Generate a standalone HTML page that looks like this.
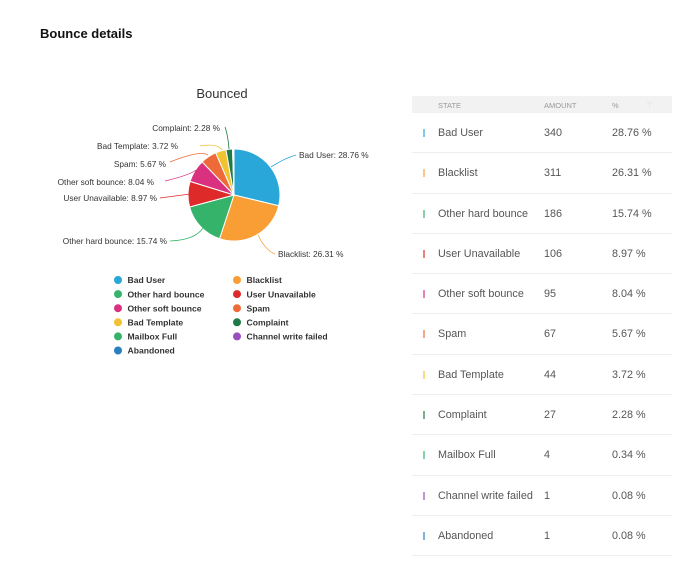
<!DOCTYPE html>
<html><head><meta charset="utf-8"><style>
body{margin:0;width:700px;height:574px;background:#fff;font-family:"Liberation Sans","DejaVu Sans",sans-serif;position:relative;overflow:hidden}
h1{position:absolute;left:40px;top:26px;margin:0;font-size:13px;font-weight:bold;color:#111}
.tbl{position:absolute;left:412px;top:96px;width:260px}
.hd{height:17px;background:#f2f2f2;font-size:7.5px;color:#999;position:relative}
.hd span{position:absolute;top:5px}
.row{height:39.3px;border-bottom:1px solid #eee;position:relative;font-size:10.8px;color:#555}
.row span{position:absolute;top:14px}
.bar{position:absolute;left:11px;top:16px;width:1.5px;height:8px}
</style></head><body>
<h1>Bounce details</h1>
<svg width="410" height="380" style="position:absolute;left:0;top:0" id="s" font-family="Liberation Sans, DejaVu Sans, sans-serif">
<text x="222" y="98" font-size="13" fill="#333" text-anchor="middle">Bounced</text>
</svg>
<div class="tbl">
<div class="hd"><span style="left:26px">STATE</span><span style="left:132px">AMOUNT</span><span style="left:200px">%</span><span style="left:234px;color:#ddd">⊤</span></div>
<div id="rows"></div>
</div>
<script>
var d=[["Bad User",340,"28.76","#29a7d8"],["Blacklist",311,"26.31","#f99e35"],["Other hard bounce",186,"15.74","#36b36a"],["User Unavailable",106,"8.97","#df2a2a"],["Other soft bounce",95,"8.04","#d9307f"],["Spam",67,"5.67","#ee6a38"],["Bad Template",44,"3.72","#f1c232"],["Complaint",27,"2.28","#1f7a45"],["Mailbox Full",4,"0.34","#36b36a"],["Channel write failed",1,"0.08","#9a4fc0"],["Abandoned",1,"0.08","#2a7fbf"]];
var s=document.getElementById('s'),h='',cx=234,cy=195,r=46,a=0,tot=1182;
function pt(t,R){return [cx+R*Math.sin(t),cy-R*Math.cos(t)]}
d.forEach(function(e){var b=a+e[1]/tot*2*Math.PI,p=pt(a,r),q=pt(b,r);h+='<path d="M'+cx+','+cy+'L'+p[0]+','+p[1]+'A'+r+','+r+' 0 '+((b-a)>Math.PI?1:0)+' 1 '+q[0]+','+q[1]+'Z" fill="'+e[3]+'" stroke="#fff" stroke-width="1"/>';a=b;});
var L=[["Bad User: 28.76 %",299,158,"start","#29a7d8","M271,167 Q285,158 296,155"],["Blacklist: 26.31 %",278,257,"start","#f99e35","M258,235 Q265,250 275,254"],["Other hard bounce: 15.74 %",167,244,"end","#36b36a","M203,228 Q195,240 170,241"],["User Unavailable: 8.97 %",157,201,"end","#df2a2a","M190,194 L160,198"],["Other soft bounce: 8.04 %",154,185,"end","#d9307f","M196,170 Q190,175 165,181"],["Spam: 5.67 %",166,167,"end","#ee6a38","M208,155 Q200,150 170,162"],["Bad Template: 3.72 %",178,149,"end","#f1c232","M222,150 Q218,143 200,146"],["Complaint: 2.28 %",220,131,"end","#1f7a45","M229,149 Q228,135 225,127"]];
L.forEach(function(l){h+='<path d="'+l[5]+'" fill="none" stroke="'+l[4]+'" stroke-width="0.8"/><text x="'+l[1]+'" y="'+l[2]+'" font-size="8.3" fill="#333" text-anchor="'+l[3]+'">'+l[0]+'</text>';});
d.forEach(function(e,i){var x=i%2?237:118,y=280+Math.floor(i/2)*14.1;h+='<circle cx="'+x+'" cy="'+y+'" r="4" fill="'+e[3]+'"/><text x="'+(x+9.5)+'" y="'+(y+3.2)+'" font-size="8.6" font-weight="bold" fill="#333">'+e[0]+'</text>';});
s.innerHTML+=h;
var R='';d.forEach(function(e){R+='<div class="row"><div class="bar" style="background:'+e[3]+';opacity:.6"></div><span style="left:26px">'+e[0]+'</span><span style="left:132px">'+e[1]+'</span><span style="left:200px">'+e[2]+' %</span></div>';});
document.getElementById('rows').innerHTML=R;
</script>
</body></html>
